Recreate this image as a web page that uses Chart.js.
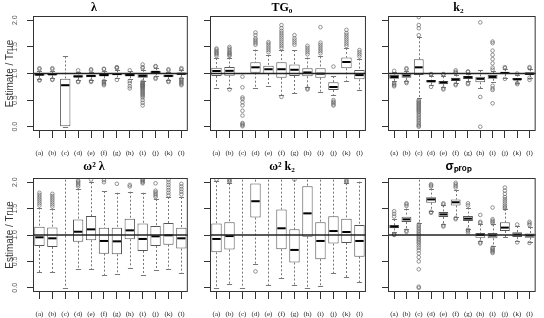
<!DOCTYPE html>
<html>
<head>
<meta charset="utf-8">
<script src="https://cdn.jsdelivr.net/npm/chart.js@4.4.1/dist/chart.umd.min.js"></script>
<style>
  body { margin: 0; background: #fff; }
  canvas { position: absolute; }
</style>
</head>
<body>
<canvas id="p1" width="196" height="159" style="left:0;top:0"></canvas>
<canvas id="p2" width="178" height="159" style="left:196px;top:0"></canvas>
<canvas id="p3" width="170" height="159" style="left:374px;top:0"></canvas>
<canvas id="p4" width="196" height="159" style="left:0;top:159px"></canvas>
<canvas id="p5" width="178" height="159" style="left:196px;top:159px"></canvas>
<canvas id="p6" width="170" height="159" style="left:374px;top:159px"></canvas>
<script>
const categories = ['(a)', '(b)', '(c)', '(d)', '(e)', '(f)', '(g)', '(h)', '(i)', '(j)', '(k)', '(l)'];
const yTicks = [0, 0.5, 1, 1.5, 2];

// lambda
const lamQ1 = [0.96, 0.965, 0.0, 0.925, 0.93, 0.95, 0.965, 0.95, 0.92, 1.01, 0.93, 0.975];
const lamMed = [0.98, 0.985, 0.78, 0.945, 0.955, 0.97, 0.99, 0.97, 0.955, 1.03, 0.955, 0.995];
const lamQ3 = [0.995, 1.0, 0.9, 0.965, 0.975, 0.99, 1.01, 0.99, 0.985, 1.05, 0.975, 1.015];
const lamLo = [0.9, 0.91, 0.0, 0.87, 0.87, 0.88, 0.91, 0.89, 0.86, 0.96, 0.87, 0.92];
const lamHi = [1.05, 1.05, 1.32, 1.02, 1.03, 1.05, 1.06, 1.04, 1.07, 1.1, 1.03, 1.07];
const lamOut = [
  [1.08, 1.1, 0.88, 0.87], [1.08, 1.1, 0.89, 0.88], [], [1.06, 0.85, 0.84],
  [1.08, 1.06, 0.86, 0.84], [1.08, 1.09, 0.86, 0.84, 0.82, 0.8, 0.78], [1.12, 1.1, 1.11, 0.88],
  [1.06, 0.86, 0.82, 0.76, 0.72],
  [1.17, 1.12, 1.1, 0.85, 0.83, 0.82, 0.8, 0.79, 0.78, 0.77, 0.76, 0.75, 0.73, 0.72, 0.7, 0.68, 0.66, 0.64, 0.62, 0.6, 0.58, 0.55, 0.5, 0.45, 0.4],
  [1.14, 1.13, 0.92, 0.9], [1.08, 1.06, 0.86, 0.84], [1.1, 1.08, 0.9, 0.88, 0.86, 0.84, 0.82, 0.8, 0.78]
];

// TG0
const tgQ1 = [0.955, 0.96, null, 1.015, 0.99, 0.92, 0.953, 0.947, 0.92, 0.69, 1.097, 0.89];
const tgMed = [1.047, 1.05, null, 1.116, 1.08, 1.08, 1.07, 1.02, 0.997, 0.746, 1.216, 0.97];
const tgQ3 = [1.109, 1.12, null, 1.21, 1.147, 1.21, 1.17, 1.097, 1.097, 0.834, 1.3, 1.066];
const tgLo = [0.72, 0.73, null, 0.72, 0.765, 0.6, 0.63, 0.74, 0.66, 0.6, 0.85, 0.69];
const tgHi = [1.29, 1.3, null, 1.45, 1.35, 1.44, 1.44, 1.3, 1.32, 0.95, 1.48, 1.28];
const tgOut = [
  [1.33, 1.36, 1.38, 1.4, 1.42, 1.45, 1.47], [1.33, 1.35, 1.37, 1.39, 1.41, 1.44, 1.47, 1.5, 0.7],
  [0.94, 0.74, 0.55, 0.52, 0.46, 0.4, 0.3, 0.21, 0.07, 0.05, 0.03, 0.01],
  [1.54, 1.57, 1.6, 1.63, 1.66, 1.72, 1.77], [1.4, 1.44, 1.48, 1.52, 1.56, 1.59],
  [1.48, 1.52, 1.56, 1.6, 1.64, 1.68, 1.72, 1.76, 1.8, 1.85, 1.91, 0.56],
  [1.54, 1.58, 1.62, 1.66, 1.72], [1.36, 1.4, 1.44, 1.48, 1.52, 0.72, 0.7],
  [1.38, 1.42, 1.46, 1.5, 1.54, 1.58, 1.87], [1.13, 0.5, 0.47, 0.45, 0.42, 0.4],
  [1.52, 1.56, 1.6, 1.64, 1.68, 1.72, 1.76, 1.82], [1.32, 1.36, 1.4, 1.44]
];

// k2
const k2Q1 = [0.9, 0.92, 0.97, 0.83, 0.797, 0.86, 0.897, 0.834, 0.9, 0.99, 0.872, 0.97];
const k2Med = [0.934, 0.96, 1.116, 0.855, 0.83, 0.89, 0.93, 0.9, 0.935, 1.01, 0.89, 0.995];
const k2Q3 = [0.97, 1.0, 1.267, 0.878, 0.86, 0.92, 0.953, 0.94, 0.97, 1.034, 0.915, 1.022];
const k2Lo = [0.86, 0.86, 0.54, 0.78, 0.74, 0.82, 0.85, 0.72, 0.84, 0.92, 0.83, 0.91];
const k2Hi = [1.02, 1.04, 1.68, 0.96, 0.95, 0.98, 1.0, 1.06, 1.04, 1.08, 0.98, 1.08];
const k2Out = [
  [1.05, 0.82, 0.8, 0.78, 0.76], [1.08, 1.1, 0.84, 0.82],
  [1.72, 1.85, 1.91, 2.06, 0.5, 0.48, 0.46, 0.44, 0.42, 0.4, 0.38, 0.36, 0.34, 0.32, 0.3, 0.28, 0.25, 0.22, 0.19, 0.16, 0.13, 0.1, 0.07, 0.04, 0.02, 0.0],
  [0.98, 0.99, 0.75], [0.98, 0.99, 0.72, 0.7], [1.06, 1.03, 1.01, 0.8, 0.78], [1.04, 1.03, 0.82, 0.8],
  [1.96, 0.56, 0.0],
  [1.6, 1.57, 1.43, 1.35, 1.27, 1.19, 1.11, 1.07, 0.77, 0.72, 0.69, 0.44],
  [1.12, 1.1, 0.9], [1.0, 0.82, 0.8], [1.12, 1.1, 0.92, 0.88]
];

// omega^2 lambda
const wlQ1 = [0.792, 0.774, null, 0.874, 0.9, 0.647, 0.635, 0.919, 0.698, 0.792, 0.817, 0.742];
const wlMed = [0.956, 0.937, null, 1.062, 1.107, 0.887, 0.88, 1.088, 0.925, 0.975, 0.994, 0.937];
const wlQ3 = [1.157, 1.14, null, 1.296, 1.358, 1.138, 1.138, 1.308, 1.22, 1.17, 1.226, 1.138];
const wlLo = [0.29, 0.29, 0.0, 0.353, 0.35, 0.245, 0.27, 0.384, 0.245, 0.33, 0.35, 0.276];
const wlHi = [1.52, 1.5, 2.2, 1.88, 2.0, 1.83, 1.8, 1.82, 1.8, 1.68, 1.72, 1.72];
const wlOut = [
  [1.56, 1.6, 1.64, 1.68, 1.72, 1.76, 1.8], [1.54, 1.58, 1.62, 1.66, 1.7, 1.74, 1.78], [],
  [1.92, 1.95, 1.98, 2.01, 2.03], [2.05], [2.0, 2.04], [1.97], [1.92, 1.95],
  [1.98, 2.0, 2.02, 2.04, 2.06], [1.72, 1.75, 1.78, 1.81, 1.84, 1.98],
  [1.75, 1.8, 1.85, 1.9, 1.95, 2.0, 2.05], [1.77, 1.82, 1.87, 1.92, 1.97]
];

// omega^2 k2
const wkQ1 = [0.673, 0.723, null, 1.33, null, 0.73, 0.478, 0.968, 0.541, 0.837, 0.849, 0.59];
const wkMed = [0.925, 0.98, null, 1.64, null, 1.127, 0.717, 1.41, 0.887, 1.075, 1.057, 0.887];
const wkQ3 = [1.22, 1.24, null, 1.975, null, 1.485, 1.107, 1.925, 1.24, 1.353, 1.308, 1.189];
const wkLo = [0.0, 0.07, 0.0, 0.447, 0.05, 0.18, 0.057, 0.0, 0.038, 0.276, 0.195, 0.11];
const wkHi = [2.02, 1.98, 2.2, 2.2, 2.2, 2.2, 2.2, 2.2, 2.2, 2.2, 1.98, 2.01];
const wkOut = [[2.05], [2.01, 2.03, 2.05], [], [0.31], [], [], [2.05], [], [], [], [2.0, 2.02, 2.04], []];

// sigma prop
const spQ1 = [1.126, 1.245, null, 1.61, 1.34, 1.56, 1.264, 0.95, 0.937, 1.075, 0.96, 0.95];
const spMed = [1.157, 1.296, null, 1.674, 1.39, 1.62, 1.31, 1.0, 0.99, 1.14, 1.01, 0.99];
const spQ3 = [1.189, 1.347, null, 1.717, 1.434, 1.674, 1.358, 1.038, 1.04, 1.24, 1.05, 1.03];
const spLo = [1.05, 1.12, 1.23, 1.45, 1.2, 1.35, 1.12, 0.88, 0.8, 0.96, 0.88, 0.87];
const spHi = [1.3, 1.5, 2.2, 1.88, 1.56, 1.85, 1.52, 1.2, 1.2, 1.5, 1.17, 1.15];
const spOut = [
  [1.35, 1.4, 1.45, 1.0, 1.01, 1.02], [1.55, 1.58, 1.6, 1.08, 1.06],
  [1.2, 1.17, 1.14, 1.11, 1.08, 1.05, 1.02, 0.99, 0.96, 0.93, 0.9, 0.87, 0.84, 0.8, 0.76, 0.71, 0.65, 0.58, 0.5, 0.35, 0.02, 0.0],
  [1.92, 1.94, 1.96, 1.42, 1.44], [1.6, 1.58, 1.18, 1.16], [1.9, 1.93, 1.96, 1.99, 1.32, 1.3],
  [1.6, 1.56, 1.1, 1.08, 1.05], [1.38, 1.25, 1.23, 0.86, 0.84],
  [1.52, 1.3, 1.27, 1.25, 1.22, 0.76, 0.74, 0.72, 0.7, 0.68, 0.66],
  [1.5, 1.53, 1.56, 1.6, 1.64, 1.68, 1.72, 1.78, 1.84, 1.9], [1.2, 0.86], [1.25, 1.22, 1.19, 0.85]
];

// whiskers, medians, reference line and frame
function boxExtras(q1, med, q3, lo, hi) {
  return {
    id: 'boxExtras',
    beforeDatasetsDraw(chart) {
      const { ctx, chartArea: a, scales: { x, y } } = chart;
      const bw = x.width / categories.length * 0.8;
      ctx.save();
      ctx.beginPath();
      ctx.rect(a.left, a.top, a.width, a.height);
      ctx.clip();
      ctx.strokeStyle = '#777';
      ctx.lineWidth = 1;
      lo.forEach((l, i) => {
        if (l == null) return;
        const cx = Math.round(x.getPixelForValue(i)) + 0.5;
        ctx.setLineDash([2, 2]);
        ctx.beginPath();
        if (q1[i] == null) {
          ctx.moveTo(cx, y.getPixelForValue(hi[i]));
          ctx.lineTo(cx, y.getPixelForValue(l));
        } else {
          ctx.moveTo(cx, y.getPixelForValue(hi[i]));
          ctx.lineTo(cx, y.getPixelForValue(q3[i]));
          ctx.moveTo(cx, y.getPixelForValue(q1[i]));
          ctx.lineTo(cx, y.getPixelForValue(l));
        }
        ctx.stroke();
        ctx.setLineDash([]);
        ctx.beginPath();
        [l, hi[i]].forEach(v => {
          const py = Math.round(y.getPixelForValue(v)) + 0.5;
          ctx.moveTo(cx - bw / 4, py);
          ctx.lineTo(cx + bw / 4, py);
        });
        ctx.stroke();
      });
      ctx.restore();
    },
    afterDatasetsDraw(chart) {
      const { ctx, chartArea: a, scales: { x, y } } = chart;
      const bw = x.width / categories.length * 0.8;
      ctx.save();
      ctx.strokeStyle = '#000';
      ctx.lineWidth = 2;
      med.forEach((m, i) => {
        if (m == null) return;
        const cx = x.getPixelForValue(i);
        const py = y.getPixelForValue(m);
        ctx.beginPath();
        ctx.moveTo(cx - bw / 2 + 1, py);
        ctx.lineTo(cx + bw / 2 - 1, py);
        ctx.stroke();
      });
      ctx.strokeStyle = '#222';
      ctx.lineWidth = 1.3;
      const ref = y.getPixelForValue(1);
      ctx.beginPath();
      ctx.moveTo(a.left, ref);
      ctx.lineTo(a.right, ref);
      ctx.stroke();
      ctx.strokeStyle = '#333';
      ctx.lineWidth = 1;
      ctx.strokeRect(a.left + 0.5, a.top + 0.5, a.width - 1, a.height - 1);
      ctx.restore();
    }
  };
}

function makePanel(id, title, q1, med, q3, lo, hi, out, col, row, sansTitle) {
  const yw = [33, 14, 14][col];
  const padRight = [8, 6, 1][col];
  const showY = col === 0;
  const outliers = [];
  out.forEach((vals, i) => vals.forEach(v => outliers.push({ x: categories[i], y: v })));

  new Chart(document.getElementById(id), {
    type: 'bar',
    data: {
      labels: categories,
      datasets: [
        {
          type: 'scatter',
          data: outliers,
          pointStyle: 'circle',
          pointRadius: 1.8,
          borderWidth: 0.7,
          borderColor: '#666',
          backgroundColor: 'rgba(0,0,0,0)'
        },
        {
          data: q1.map((v, i) => v == null ? null : [v, q3[i]]),
          backgroundColor: '#fff',
          borderColor: '#555',
          borderWidth: 1,
          borderSkipped: false,
          barPercentage: 0.8,
          categoryPercentage: 1
        }
      ]
    },
    options: {
      responsive: false,
      animation: false,
      layout: { padding: { left: 0, right: padRight, top: 0, bottom: 0 } },
      plugins: {
        legend: { display: false },
        tooltip: { enabled: false },
        title: {
          display: true,
          text: title,
          color: '#000',
          font: { family: sansTitle ? 'Liberation Sans' : 'Liberation Serif', size: 12, weight: 'bold', lineHeight: 1 },
          padding: { top: 2, bottom: row === 0 ? 2 : 5 }
        }
      },
      scales: {
        x: {
          grid: { display: true, drawOnChartArea: false, drawTicks: true, tickLength: 7, offset: false, color: '#333' },
          border: { display: false },
          ticks: { font: { family: 'Liberation Serif', size: 7 }, color: '#222', padding: 11, autoSkip: false, maxRotation: 0 },
          afterFit: sc => { sc.height = row === 0 ? 28 : 26; }
        },
        y: {
          min: -0.08,
          max: 2.08,
          afterBuildTicks: sc => { sc.ticks = yTicks.map(v => ({ value: v })); },
          grid: { drawOnChartArea: false, tickLength: 6, color: '#333' },
          border: { display: false },
          ticks: {
            display: showY,
            minRotation: 90,
            maxRotation: 90,
            crossAlign: 'center',
            padding: 7,
            color: '#555',
            font: { family: 'Liberation Sans', size: 7 },
            callback: v => v.toFixed(1)
          },
          title: {
            display: showY,
            text: 'Estimate / True',
            color: '#333',
            font: { family: 'Liberation Sans', size: 10 },
            padding: { top: 4, bottom: 0 }
          },
          afterFit: sc => { sc.width = yw; }
        }
      }
    },
    plugins: [boxExtras(q1, med, q3, lo, hi)]
  });
}

makePanel('p1', 'λ', lamQ1, lamMed, lamQ3, lamLo, lamHi, lamOut, 0, 0, false);
makePanel('p2', 'TG₀', tgQ1, tgMed, tgQ3, tgLo, tgHi, tgOut, 1, 0, false);
makePanel('p3', 'k₂', k2Q1, k2Med, k2Q3, k2Lo, k2Hi, k2Out, 2, 0, false);
makePanel('p4', 'ω² λ', wlQ1, wlMed, wlQ3, wlLo, wlHi, wlOut, 0, 1, false);
makePanel('p5', 'ω² k₂', wkQ1, wkMed, wkQ3, wkLo, wkHi, wkOut, 1, 1, false);
makePanel('p6', 'σₚᵣₒₚ', spQ1, spMed, spQ3, spLo, spHi, spOut, 2, 1, true);
</script>
</body>
</html>
